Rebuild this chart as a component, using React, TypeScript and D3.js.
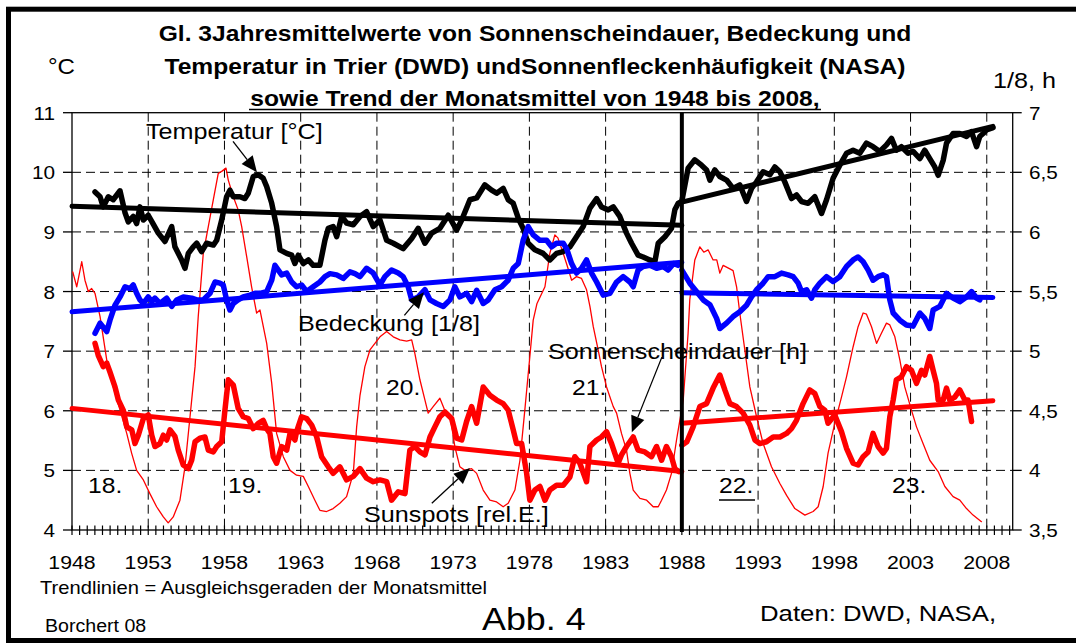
import React from 'react';
import * as d3 from 'd3';

type Pt = [number, number];

const W = 1076;
const H = 644;
const FONT = '"Liberation Sans", Arial, Helvetica, sans-serif';
const SX = 1.12; // the original picture is a little wider than tall

const yearTicks = [1948, 1953, 1958, 1963, 1968, 1973, 1978, 1983, 1988, 1993, 1998, 2003, 2008];
const leftTicks = [4, 5, 6, 7, 8, 9, 10, 11];
const rightTicks = [3.5, 4, 4.5, 5, 5.5, 6, 6.5, 7];
const gridLeft = [5, 6, 7, 8, 9, 10];

// Temperatur [°C], 3-year running mean, left axis
const tempA: Pt[] = [
  [1949.51, 9.67], [1949.84, 9.59], [1950.05, 9.42], [1950.38, 9.59], [1950.7, 9.54], [1951.15, 9.69],
  [1951.48, 9.32], [1951.69, 9.17], [1952.02, 9.26], [1952.24, 9.14], [1952.46, 9.42], [1952.68, 9.2],
  [1953.0, 9.28], [1953.33, 9.13], [1953.66, 8.98], [1954.1, 8.84], [1954.54, 9.09], [1954.75, 8.75],
  [1955.19, 8.53], [1955.41, 8.39], [1955.63, 8.64], [1955.95, 8.75], [1956.18, 8.81], [1956.5, 8.67],
  [1956.83, 8.81], [1957.27, 8.78], [1957.49, 8.86], [1957.82, 9.2], [1958.14, 9.59], [1958.36, 9.7],
  [1958.58, 9.59], [1959.02, 9.59], [1959.34, 9.56], [1959.56, 9.65], [1959.89, 9.93], [1960.22, 9.96],
  [1960.54, 9.9], [1960.77, 9.76], [1961.1, 9.48], [1961.42, 9.09], [1961.64, 8.7], [1962.08, 8.64],
  [1962.41, 8.61], [1962.62, 8.47], [1962.84, 8.61], [1963.17, 8.47], [1963.5, 8.53], [1963.82, 8.44],
  [1964.26, 8.44], [1964.59, 8.86], [1964.81, 9.06], [1965.13, 9.09], [1965.36, 8.92], [1965.69, 9.26],
  [1966.01, 9.15], [1966.45, 9.12], [1966.89, 9.26], [1967.32, 9.34], [1967.76, 9.09], [1968.2, 9.2],
  [1968.64, 8.86], [1969.07, 8.81], [1969.72, 8.72], [1970.28, 8.89], [1970.71, 9.06], [1971.15, 8.81],
  [1971.59, 8.98], [1972.13, 9.06], [1972.68, 9.28], [1973.23, 9.03], [1973.56, 9.2], [1974.1, 9.54],
  [1974.54, 9.57], [1975.08, 9.79], [1975.52, 9.7], [1975.85, 9.65], [1976.28, 9.73], [1976.61, 9.54],
  [1976.94, 9.48], [1977.27, 9.23], [1977.59, 9.06], [1977.92, 8.81], [1978.36, 8.7], [1978.9, 8.64],
  [1979.34, 8.53], [1979.78, 8.64], [1980.22, 8.67], [1980.66, 8.75], [1981.09, 8.92], [1981.53, 9.09],
  [1981.97, 9.4], [1982.41, 9.56], [1982.73, 9.42], [1983.17, 9.37], [1983.5, 9.42], [1983.93, 9.26],
  [1984.37, 8.98], [1984.7, 8.81], [1985.13, 8.61], [1985.46, 8.58], [1985.9, 8.53], [1986.23, 8.5],
  [1986.45, 8.81], [1986.89, 8.92], [1987.32, 9.06], [1987.54, 9.37], [1987.76, 9.48], [1987.93, 9.5],
];
const tempB: Pt[] = [
  [1988.0, 9.52], [1988.41, 10.07], [1988.85, 10.21], [1989.29, 10.12], [1989.62, 10.04], [1989.84, 9.87],
  [1990.16, 10.04], [1990.49, 9.93], [1990.93, 9.87], [1991.36, 9.73], [1991.8, 9.79], [1992.24, 9.51],
  [1992.57, 9.73], [1992.9, 9.84], [1993.33, 10.01], [1993.77, 9.96], [1994.1, 10.09], [1994.43, 10.01],
  [1994.75, 9.84], [1995.19, 9.56], [1995.52, 9.62], [1995.85, 9.51], [1996.28, 9.48], [1996.72, 9.59],
  [1997.16, 9.31], [1997.49, 9.54], [1997.92, 9.9], [1998.36, 10.12], [1998.8, 10.32], [1999.23, 10.37],
  [1999.67, 10.32], [2000.11, 10.49], [2000.54, 10.43], [2000.98, 10.35], [2001.42, 10.46], [2001.75, 10.57],
  [2002.07, 10.37], [2002.4, 10.43], [2002.84, 10.32], [2003.17, 10.35], [2003.61, 10.23], [2003.93, 10.37],
  [2004.26, 10.23], [2004.59, 10.09], [2004.81, 9.95], [2005.14, 10.2], [2005.36, 10.49], [2005.79, 10.65],
  [2006.23, 10.65], [2006.67, 10.6], [2007.0, 10.68], [2007.33, 10.43], [2007.54, 10.6], [2007.76, 10.65],
  [2007.98, 10.71], [2008.41, 10.75],
];
const tempTrendA: Pt[] = [[1948, 9.43], [1988, 9.11]];
const tempTrendB: Pt[] = [[1988, 9.5], [2008.4, 10.77]];

// Bedeckung [1/8], right axis
const cloudA: Pt[] = [
  [1949.51, 5.15], [1949.84, 5.235], [1950.28, 5.165], [1950.49, 5.26], [1950.82, 5.385], [1951.15, 5.455],
  [1951.48, 5.54], [1951.8, 5.525], [1952.02, 5.555], [1952.24, 5.485], [1952.46, 5.43], [1952.68, 5.4],
  [1953.0, 5.455], [1953.23, 5.415], [1953.44, 5.445], [1953.77, 5.4], [1954.21, 5.445], [1954.54, 5.375],
  [1954.87, 5.43], [1955.3, 5.455], [1955.85, 5.445], [1956.18, 5.43], [1956.61, 5.43], [1957.05, 5.485],
  [1957.38, 5.58], [1957.7, 5.57], [1957.92, 5.555], [1958.14, 5.43], [1958.36, 5.345], [1958.58, 5.4],
  [1958.9, 5.43], [1959.23, 5.455], [1959.67, 5.47], [1960.0, 5.485], [1960.33, 5.485], [1960.77, 5.5],
  [1961.1, 5.595], [1961.31, 5.72], [1961.53, 5.68], [1961.75, 5.64], [1962.08, 5.655], [1962.41, 5.58],
  [1962.73, 5.54], [1963.06, 5.555], [1963.39, 5.5], [1963.82, 5.54], [1964.26, 5.58], [1964.59, 5.625],
  [1964.92, 5.65], [1965.36, 5.64], [1965.79, 5.61], [1966.23, 5.665], [1966.56, 5.65], [1966.89, 5.625],
  [1967.32, 5.695], [1967.76, 5.655], [1968.2, 5.555], [1968.52, 5.625], [1968.96, 5.68], [1969.4, 5.655],
  [1969.72, 5.625], [1970.05, 5.54], [1970.28, 5.43], [1970.71, 5.455], [1971.15, 5.515], [1971.48, 5.43],
  [1971.91, 5.4], [1972.35, 5.375], [1972.79, 5.43], [1973.11, 5.54], [1973.44, 5.455], [1973.88, 5.485],
  [1974.21, 5.415], [1974.54, 5.51], [1974.97, 5.4], [1975.3, 5.43], [1975.74, 5.515], [1976.18, 5.54],
  [1976.61, 5.595], [1976.94, 5.695], [1977.27, 5.735], [1977.59, 5.93], [1977.92, 6.045], [1978.25, 5.975],
  [1978.69, 5.93], [1979.13, 5.93], [1979.46, 5.875], [1979.78, 5.905], [1980.22, 5.905], [1980.44, 5.86],
  [1980.77, 5.735], [1981.09, 5.655], [1981.42, 5.695], [1981.75, 5.765], [1982.08, 5.655], [1982.41, 5.58],
  [1982.84, 5.47], [1983.28, 5.485], [1983.72, 5.58], [1984.15, 5.625], [1984.59, 5.58], [1984.81, 5.54],
  [1985.13, 5.68], [1985.46, 5.71], [1985.9, 5.72], [1986.34, 5.695], [1986.77, 5.71], [1987.1, 5.68],
  [1987.46, 5.735], [1987.74, 5.72],
];
const cloudB: Pt[] = [
  [1988.0, 5.68], [1988.52, 5.57], [1988.96, 5.5], [1989.4, 5.43], [1989.84, 5.39], [1990.28, 5.275],
  [1990.49, 5.19], [1990.93, 5.235], [1991.36, 5.29], [1991.8, 5.33], [1992.24, 5.385], [1992.57, 5.455],
  [1992.9, 5.515], [1993.33, 5.57], [1993.66, 5.625], [1994.1, 5.625], [1994.54, 5.655], [1994.97, 5.64],
  [1995.3, 5.625], [1995.63, 5.57], [1995.85, 5.5], [1996.18, 5.515], [1996.5, 5.445], [1996.72, 5.515],
  [1997.05, 5.57], [1997.49, 5.625], [1997.92, 5.585], [1998.36, 5.625], [1998.8, 5.71], [1999.23, 5.765],
  [1999.56, 5.79], [1999.89, 5.75], [2000.22, 5.68], [2000.54, 5.595], [2000.87, 5.625], [2001.2, 5.64],
  [2001.42, 5.625], [2001.64, 5.43], [2001.86, 5.32], [2002.3, 5.26], [2002.73, 5.22], [2003.17, 5.21],
  [2003.61, 5.32], [2003.93, 5.275], [2004.26, 5.19], [2004.48, 5.345], [2004.92, 5.375], [2005.36, 5.485],
  [2005.79, 5.445], [2006.23, 5.415], [2006.67, 5.455], [2007.0, 5.5], [2007.33, 5.445], [2007.54, 5.43],
];
const cloudTrendA: Pt[] = [[1948, 5.33], [1988, 5.745]];
const cloudTrendB: Pt[] = [[1988, 5.49], [2008.4, 5.45]];

// Sonnenscheindauer [h], right axis
const sunA: Pt[] = [
  [1949.51, 5.065], [1949.72, 4.965], [1950.05, 4.87], [1950.28, 4.9], [1950.49, 4.825], [1950.82, 4.7],
  [1951.04, 4.59], [1951.36, 4.505], [1951.59, 4.365], [1951.92, 4.34], [1952.13, 4.225], [1952.35, 4.295],
  [1952.68, 4.435], [1953.0, 4.465], [1953.23, 4.295], [1953.44, 4.2], [1953.77, 4.225], [1953.99, 4.295],
  [1954.21, 4.255], [1954.43, 4.34], [1954.75, 4.285], [1954.97, 4.17], [1955.3, 4.045], [1955.63, 4.015],
  [1955.85, 4.085], [1956.07, 4.24], [1956.39, 4.27], [1956.72, 4.28], [1956.94, 4.17], [1957.27, 4.155],
  [1957.49, 4.2], [1957.82, 4.24], [1958.03, 4.505], [1958.25, 4.76], [1958.58, 4.715], [1958.9, 4.52],
  [1959.23, 4.45], [1959.56, 4.435], [1959.89, 4.35], [1960.22, 4.395], [1960.54, 4.42], [1960.77, 4.35],
  [1960.98, 4.31], [1961.2, 4.115], [1961.42, 4.06], [1961.75, 4.2], [1962.08, 4.17], [1962.3, 4.31],
  [1962.62, 4.255], [1962.73, 4.325], [1963.06, 4.45], [1963.39, 4.435], [1963.72, 4.38], [1964.05, 4.28],
  [1964.37, 4.115], [1964.81, 4.03], [1965.13, 3.975], [1965.57, 4.03], [1966.01, 3.92], [1966.45, 3.95],
  [1966.89, 4.015], [1967.32, 3.935], [1967.76, 3.905], [1968.2, 3.92], [1968.64, 3.905], [1968.96, 3.75],
  [1969.4, 3.82], [1969.84, 3.805], [1970.16, 4.17], [1970.49, 4.2], [1970.82, 4.155], [1971.15, 4.13],
  [1971.48, 4.28], [1971.8, 4.365], [1972.13, 4.45], [1972.46, 4.49], [1972.9, 4.435], [1973.23, 4.27],
  [1973.56, 4.255], [1973.88, 4.41], [1974.21, 4.535], [1974.54, 4.395], [1974.97, 4.7], [1975.41, 4.63],
  [1975.85, 4.59], [1976.28, 4.56], [1976.61, 4.505], [1976.94, 4.34], [1977.16, 4.225], [1977.49, 4.225],
  [1977.82, 3.975], [1978.03, 3.75], [1978.36, 3.835], [1978.69, 3.865], [1979.02, 3.75], [1979.34, 3.835],
  [1979.78, 3.875], [1980.22, 3.875], [1980.66, 3.945], [1980.98, 4.115], [1981.31, 4.06], [1981.75, 3.905],
  [1981.97, 4.2], [1982.41, 4.255], [1982.73, 4.28], [1983.06, 4.325], [1983.39, 4.225], [1983.82, 4.06],
  [1984.04, 4.13], [1984.37, 4.2], [1984.81, 4.28], [1985.13, 4.17], [1985.57, 4.155], [1986.01, 4.115],
  [1986.34, 4.2], [1986.67, 4.085], [1986.99, 4.2], [1987.32, 4.115], [1987.54, 4.015], [1987.8, 3.99],
];
const sunB: Pt[] = [
  [1988.0, 4.21], [1988.33, 4.24], [1988.74, 4.365], [1989.18, 4.535], [1989.62, 4.56], [1990.05, 4.69],
  [1990.49, 4.8], [1990.82, 4.675], [1991.15, 4.56], [1991.59, 4.535], [1992.02, 4.48], [1992.46, 4.38],
  [1992.79, 4.255], [1993.11, 4.225], [1993.55, 4.24], [1993.99, 4.28], [1994.43, 4.28], [1994.87, 4.31],
  [1995.19, 4.35], [1995.52, 4.42], [1995.95, 4.56], [1996.39, 4.675], [1996.72, 4.645], [1997.05, 4.535],
  [1997.38, 4.505], [1997.59, 4.395], [1998.03, 4.465], [1998.47, 4.325], [1998.8, 4.185], [1999.23, 4.06],
  [1999.56, 4.045], [1999.89, 4.115], [2000.22, 4.155], [2000.54, 4.31], [2000.87, 4.2], [2001.2, 4.145],
  [2001.42, 4.185], [2001.64, 4.45], [2001.86, 4.59], [2002.07, 4.76], [2002.4, 4.785], [2002.73, 4.87],
  [2003.06, 4.84], [2003.39, 4.73], [2003.72, 4.84], [2003.93, 4.8], [2004.26, 4.955], [2004.48, 4.84],
  [2004.7, 4.73], [2004.81, 4.59], [2005.14, 4.59], [2005.36, 4.69], [2005.57, 4.59], [2005.9, 4.615],
  [2006.23, 4.675], [2006.56, 4.59], [2006.77, 4.59], [2007.0, 4.41],
];
const sunTrendA: Pt[] = [[1948, 4.52], [1988, 3.99]];
const sunTrendB: Pt[] = [[1988, 4.395], [2008.4, 4.585]];

// Sunspots [rel.E.], drawn in the units of the left axis
const sunspots: Pt[] = [
  [1948.05, 8.33], [1948.31, 8.08], [1948.64, 8.5], [1948.85, 8.19], [1949.07, 8.0], [1949.29, 8.05],
  [1949.51, 7.97], [1949.84, 7.58], [1950.28, 6.85], [1950.7, 6.4], [1951.15, 6.01], [1951.59, 5.62],
  [1951.91, 5.29], [1952.24, 5.0], [1952.68, 4.84], [1953.11, 4.61], [1953.55, 4.39], [1953.99, 4.22],
  [1954.31, 4.12], [1954.64, 4.22], [1955.08, 4.5], [1955.41, 5.06], [1955.74, 5.9], [1956.07, 6.74],
  [1956.28, 7.58], [1956.61, 8.64], [1956.94, 9.09], [1957.27, 9.54], [1957.59, 9.98], [1957.84, 10.02],
  [1958.1, 10.07], [1958.25, 9.87], [1958.58, 9.59], [1958.9, 9.37], [1959.13, 9.09], [1959.46, 8.58],
  [1959.78, 8.08], [1960.11, 7.64], [1960.33, 7.69], [1960.77, 7.13], [1961.1, 6.46], [1961.42, 5.62],
  [1961.86, 5.23], [1962.3, 5.0], [1962.73, 4.92], [1963.17, 4.9], [1963.5, 4.73], [1963.93, 4.5],
  [1964.26, 4.33], [1964.7, 4.31], [1965.13, 4.36], [1965.57, 4.45], [1966.01, 4.56], [1966.45, 4.95],
  [1966.67, 5.73], [1966.89, 6.26], [1967.21, 6.74], [1967.54, 7.02], [1967.87, 7.13], [1968.2, 7.24],
  [1968.64, 7.33], [1969.07, 7.24], [1969.51, 7.19], [1969.95, 7.17], [1970.28, 7.19], [1970.49, 6.96],
  [1970.82, 6.52], [1971.15, 6.18], [1971.36, 5.96], [1971.69, 6.07], [1972.13, 6.21], [1972.46, 6.0],
  [1972.79, 5.93], [1973.11, 5.4], [1973.44, 5.06], [1973.77, 5.0], [1974.21, 5.03], [1974.54, 4.95],
  [1974.97, 4.67], [1975.41, 4.5], [1975.85, 4.47], [1976.28, 4.39], [1976.61, 4.45], [1977.05, 4.67],
  [1977.38, 5.17], [1977.7, 6.01], [1978.03, 6.91], [1978.25, 7.52], [1978.5, 7.8], [1979.02, 8.08],
  [1979.34, 8.64], [1979.67, 8.95], [1979.87, 8.9], [1980.22, 8.64], [1980.46, 8.45], [1980.77, 8.19],
  [1981.09, 8.25], [1981.42, 8.22], [1981.75, 8.03], [1981.97, 7.75], [1982.19, 7.41], [1982.51, 7.02],
  [1982.73, 6.74], [1983.06, 6.4], [1983.5, 6.07], [1983.72, 5.96], [1984.04, 5.62], [1984.37, 5.34],
  [1984.59, 4.95], [1984.81, 4.67], [1985.25, 4.53], [1985.69, 4.5], [1986.12, 4.39], [1986.45, 4.39],
  [1986.67, 4.5], [1986.99, 4.67], [1987.32, 4.95], [1987.65, 5.51], [1988.09, 6.18], [1988.41, 7.3],
  [1988.52, 7.86], [1988.63, 8.08], [1988.85, 8.53], [1989.18, 8.75], [1989.44, 8.66], [1989.72, 8.7],
  [1990.05, 8.53], [1990.29, 8.53], [1990.49, 8.31], [1990.71, 8.44], [1991.15, 8.38], [1991.36, 8.35],
  [1991.59, 8.08], [1991.8, 7.64], [1992.13, 7.02], [1992.46, 6.4], [1992.9, 5.9], [1993.33, 5.45],
  [1993.88, 5.06], [1994.43, 4.78], [1994.87, 4.58], [1995.41, 4.36], [1996.07, 4.25], [1996.61, 4.31],
  [1996.94, 4.39], [1997.27, 4.73], [1997.59, 5.29], [1998.03, 5.79], [1998.47, 6.23], [1998.8, 6.57],
  [1999.23, 7.07], [1999.56, 7.41], [1999.89, 7.64], [2000.11, 7.62], [2000.44, 7.41], [2000.77, 7.13],
  [2001.09, 7.3], [2001.42, 7.47], [2001.64, 7.44], [2001.97, 7.24], [2002.3, 6.85], [2002.62, 6.4],
  [2003.06, 6.01], [2003.39, 5.73], [2003.82, 5.45], [2004.26, 5.17], [2004.81, 4.98], [2005.25, 4.73],
  [2005.79, 4.56], [2006.23, 4.5], [2006.67, 4.36], [2007.1, 4.25], [2007.65, 4.14],
];

function Label({ x, y, size, anchor = 'start', weight = 'normal', children }: any) {
  return (
    <text
      transform={`translate(${x},${y}) scale(${SX},1)`}
      fontSize={size}
      fontWeight={weight}
      textAnchor={anchor}
      fill="#000"
    >
      {children}
    </text>
  );
}

function Arrow({ from, to }: { from: Pt; to: Pt }) {
  const [x1, y1] = from;
  const [x2, y2] = to;
  const len = Math.hypot(x2 - x1, y2 - y1);
  const ux = (x2 - x1) / len;
  const uy = (y2 - y1) / len;
  const head = 16;
  const half = 7;
  const bx = x2 - ux * head;
  const by = y2 - uy * head;
  const pts = [
    [x2, y2],
    [bx - uy * half, by + ux * half],
    [bx + uy * half, by - ux * half],
  ].map(p => p.join(',')).join(' ');
  return (
    <g>
      <line x1={x1} y1={y1} x2={bx} y2={by} stroke="#000" strokeWidth={1.3} />
      <polygon points={pts} fill="#000" />
    </g>
  );
}

export default function App() {
  const left = 72;
  const right = 1012.7;
  const top = 112.7;
  const bottom = 530;

  const x = d3.scaleLinear().domain([1948, 2009.7]).range([left, right]);
  const yL = d3.scaleLinear().domain([4, 11]).range([bottom, top]);
  const yR = d3.scaleLinear().domain([3.5, 7]).range([bottom, top]);

  const lineL = d3.line<Pt>().x(d => x(d[0])).y(d => yL(d[1]));
  const lineR = d3.line<Pt>().x(d => x(d[0])).y(d => yR(d[1]));

  const halfYears = d3.range(1948, 2009.6, 0.5);
  const thick = { fill: 'none', strokeLinejoin: 'round' as const, strokeLinecap: 'round' as const };

  const P = (yr: number, v: number): Pt => [x(yr), yL(v)];

  return (
    <div style={{ position: 'absolute', left: 0, top: 0, width: W, height: H, background: '#fff' }}>
      <svg width={W} height={H} fontFamily={FONT} style={{ display: 'block' }}>
        <rect x={0} y={0} width={W} height={H} fill="#fff" />
        {/* outer frame */}
        <rect x={8.5} y={9.2} width={1085} height={631.3} fill="none" stroke="#000" strokeWidth={5} />

        {/* title */}
        <Label x={535} y={41} size={22} anchor="middle" weight="bold">
          Gl. 3Jahresmittelwerte von Sonnenscheindauer, Bedeckung und
        </Label>
        <Label x={535} y={74} size={22} anchor="middle" weight="bold">
          Temperatur in Trier (DWD) undSonnenfleckenhäufigkeit (NASA)
        </Label>
        <Label x={535} y={106} size={22} anchor="middle" weight="bold">
          sowie Trend der Monatsmittel von 1948 bis 2008,
        </Label>
        <line x1={249} x2={821} y1={109.5} y2={109.5} stroke="#000" strokeWidth={1.6} />

        <Label x={48} y={74} size={21.5}>°C</Label>
        <Label x={993} y={88} size={22.5}>1/8, h</Label>

        {/* grid */}
        {gridLeft.map(v => (
          <line key={'h' + v} x1={left} x2={right} y1={yL(v)} y2={yL(v)}
            stroke="#000" strokeWidth={1} strokeDasharray="9,5" />
        ))}
        {yearTicks.slice(1).map(t => (
          <line key={'v' + t} x1={x(t)} x2={x(t)} y1={top} y2={bottom}
            stroke="#000" strokeWidth={1} strokeDasharray="9,5" />
        ))}

        {/* plot frame and axes */}
        <rect x={left} y={top} width={right - left} height={bottom - top} fill="none" stroke="#000" strokeWidth={1.3} />
        {leftTicks.map(v => (
          <g key={'lt' + v}>
            <line x1={left - 9} x2={left} y1={yL(v)} y2={yL(v)} stroke="#000" strokeWidth={1.3} />
            <Label x={55} y={yL(v) + 7} size={18.5} anchor="end">{String(v)}</Label>
          </g>
        ))}
        {rightTicks.map(v => (
          <g key={'rt' + v}>
            <line x1={right} x2={right + 9} y1={yR(v)} y2={yR(v)} stroke="#000" strokeWidth={1.3} />
            <Label x={1029} y={yR(v) + 7} size={18.5}>{String(v).replace('.', ',')}</Label>
          </g>
        ))}
        {halfYears.map(t => (
          <line key={'xt' + t} x1={x(t)} x2={x(t)} y1={bottom - 4.5} y2={bottom + 5} stroke="#000" strokeWidth={1.2} />
        ))}
        {yearTicks.map(t => (
          <Label key={'xl' + t} x={x(t)} y={569} size={19} anchor="middle">{String(t)}</Label>
        ))}

        {/* series */}
        <path d={lineL(sunspots) || ''} stroke="#ff0000" strokeWidth={1.3} {...thick} />

        <path d={lineL(tempA) || ''} stroke="#000" strokeWidth={5.5} {...thick} />
        <path d={lineL(tempB) || ''} stroke="#000" strokeWidth={5.5} {...thick} />
        <path d={lineL(tempTrendA) || ''} stroke="#000" strokeWidth={5} {...thick} />
        <path d={lineL(tempTrendB) || ''} stroke="#000" strokeWidth={5} {...thick} />

        <path d={lineR(cloudA) || ''} stroke="#0000ff" strokeWidth={5.5} {...thick} />
        <path d={lineR(cloudB) || ''} stroke="#0000ff" strokeWidth={5.5} {...thick} />
        <path d={lineR(cloudTrendA) || ''} stroke="#0000ff" strokeWidth={5} {...thick} />
        <path d={lineR(cloudTrendB) || ''} stroke="#0000ff" strokeWidth={5} {...thick} />

        <path d={lineR(sunA) || ''} stroke="#ff0000" strokeWidth={5.5} {...thick} />
        <path d={lineR(sunB) || ''} stroke="#ff0000" strokeWidth={5.5} {...thick} />
        <path d={lineR(sunTrendA) || ''} stroke="#ff0000" strokeWidth={5} {...thick} />
        <path d={lineR(sunTrendB) || ''} stroke="#ff0000" strokeWidth={5} {...thick} />

        {/* break at 1988 */}
        <line x1={x(1988)} x2={x(1988)} y1={top} y2={bottom + 2} stroke="#000" strokeWidth={4} />

        {/* annotations */}
        <Label x={146} y={139} size={22.5}>Temperatur [°C]</Label>
        <Arrow from={P(1958.56, 10.52)} to={P(1960.13, 10.0)} />
        <Label x={298} y={331} size={22.5}>Bedeckung [1/8]</Label>
        <Arrow from={P(1969.8, 7.6)} to={P(1971.08, 7.99)} />
        <Label x={548} y={359} size={22.5}>Sonnenscheindauer [h]</Label>
        <Arrow from={P(1986.69, 6.9)} to={P(1984.72, 5.64)} />
        <Label x={364} y={522} size={22.5}>Sunspots [rel.E.]</Label>
        <Arrow from={P(1971.6, 4.45)} to={P(1974.1, 5.04)} />

        <Label x={88} y={493} size={22}>18.</Label>
        <Label x={228} y={493} size={22}>19.</Label>
        <Label x={386} y={395} size={22}>20.</Label>
        <Label x={572} y={395} size={22}>21.</Label>
        <Label x={719} y={493} size={22}>22.</Label>
        <line x1={719} x2={755} y1={500} y2={500} stroke="#000" strokeWidth={1.5} />
        <Label x={892} y={493} size={22}>23.</Label>

        {/* footer */}
        <Label x={40} y={594} size={18}>Trendlinien = Ausgleichsgeraden der Monatsmittel</Label>
        <Label x={45} y={632} size={17.5}>Borchert 08</Label>
        <Label x={482} y={630} size={32}>Abb. 4</Label>
        <Label x={760} y={621} size={23}>Daten: DWD, NASA,</Label>
      </svg>
    </div>
  );
}
